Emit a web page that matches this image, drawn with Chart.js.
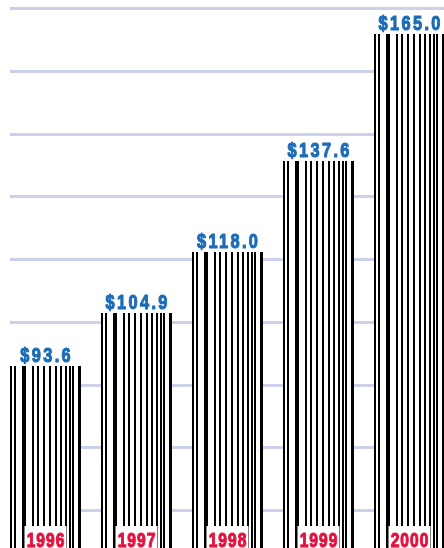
<!DOCTYPE html>
<html>
<head>
<meta charset="utf-8">
<script src="https://cdn.jsdelivr.net/npm/chart.js@4/dist/chart.umd.min.js"></script>
<style>
    html, body { margin: 0; padding: 0; background: #fff; overflow: hidden; }
    #wrap { width: 444px; height: 548px; overflow: hidden; }
</style>
</head>
<body>
<div id="wrap"><canvas id="chart" width="455" height="548"></canvas></div>
<script>
const years = ['1996', '1997', '1998', '1999', '2000'];
const revenue = [93.6, 104.9, 118.0, 137.6, 165.0];
const gridValues = [170.4, 156.9, 143.5, 130.0, 116.5, 103.1, 89.6, 76.2, 62.7];

// barcode stripes: [offset, width] as fraction of bar width
const stripes = [[0, 0.028], [0.057, 0.03], [0.163, 0.05], [0.316, 0.035], [0.386, 0.028], [0.471, 0.03],
    [0.547, 0.024], [0.637, 0.028], [0.707, 0.024], [0.778, 0.022], [0.825, 0.024], [0.867, 0.024], [0.952, 0.048]];

// condensed heavy text: scale a bold face horizontally and stroke it a little
function narrowText(ctx, text, x, y, size, spacing) {
    ctx.save();
    ctx.translate(x, y);
    ctx.scale(0.78, 1);
    ctx.font = `bold ${size}px "Liberation Sans", Arial, sans-serif`;
    ctx.letterSpacing = spacing + 'px';
    ctx.textAlign = 'center';
    ctx.textBaseline = 'alphabetic';
    ctx.strokeStyle = ctx.fillStyle;
    ctx.lineWidth = 1.1;
    ctx.lineJoin = 'round';
    ctx.fillText(text, spacing / 2, 0);
    ctx.strokeText(text, spacing / 2, 0);
    ctx.restore();
}

const barcodePlugin = {
    id: 'barcode',
    beforeDatasetsDraw(chart) {
        const { ctx, chartArea, scales } = chart;
        const first = chart.getDatasetMeta(0).data[0];
        const left = first.x - first.width / 2;
        ctx.save();
        ctx.strokeStyle = '#cdd0ea';
        ctx.lineWidth = 3;
        gridValues.forEach(v => {
            const y = Math.round(scales.y.getPixelForValue(v)) + 0.5;
            ctx.beginPath();
            ctx.moveTo(left, y);
            ctx.lineTo(chartArea.right, y);
            ctx.stroke();
        });
        ctx.restore();
    },
    afterDatasetsDraw(chart) {
        const { ctx, chartArea } = chart;
        ctx.save();
        chart.getDatasetMeta(0).data.forEach((bar, i) => {
            const left = bar.x - bar.width / 2;
            const top = Math.round(bar.y);
            const bottom = Math.min(bar.base, chartArea.bottom);
            ctx.fillStyle = '#000';
            stripes.forEach(([o, w]) => {
                ctx.fillRect(Math.round(left + o * bar.width), top, Math.max(2, Math.round(w * bar.width)), bottom - top);
            });
            ctx.fillStyle = '#1c6cb8';
            narrowText(ctx, '$' + revenue[i].toFixed(1), bar.x, top - 4, 21, 3);
            ctx.fillStyle = '#fff';
            ctx.fillRect(bar.x - 21, chartArea.bottom - 22, 42, 22);
            ctx.fillStyle = '#e3133f';
            narrowText(ctx, years[i], bar.x, chartArea.bottom - 1, 20, 1.3);
        });
        ctx.restore();
    }
};

new Chart(document.getElementById('chart'), {
    type: 'bar',
    data: {
        labels: years,
        datasets: [{ data: revenue, backgroundColor: '#fff', borderWidth: 0, barPercentage: 0.78, categoryPercentage: 1 }]
    },
    options: {
        responsive: false,
        animation: false,
        layout: { padding: 0 },
        plugins: { legend: { display: false }, tooltip: { enabled: false } },
        scales: {
            x: { display: false },
            y: { display: false, min: 54.5, max: 172.2 }
        }
    },
    plugins: [barcodePlugin]
});
</script>
</body>
</html>
